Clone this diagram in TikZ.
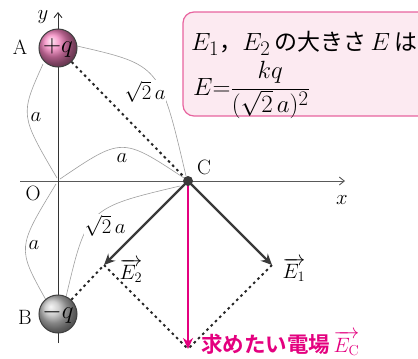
\documentclass[tikz,border=0pt]{standalone}
\usepackage{fontspec}
\newfontfamily\jp{Noto Sans CJK JP}[BoldFont={Noto Sans CJK JP Bold}]
\usetikzlibrary{arrows.meta}
\definecolor{pinkmag}{HTML}{E4007F}
\definecolor{boxfill}{HTML}{FCEAF1}
\definecolor{boxline}{HTML}{E8649F}
\definecolor{vecgray}{HTML}{3A3A3A}
\definecolor{ballpink}{RGB}{245,130,190}
\tikzset{
  dimarc/.style={draw=gray!75, line width=0.6pt},
  dotline/.style={draw=black!85, line width=2pt, dash pattern=on 2.5pt off 3.5pt},
  axisline/.style={draw=black!65, line width=0.9pt, -{Straight Barb[length=5pt,width=8pt]}},
  vecarrow/.style={draw=vecgray, line width=2.4pt, -{Stealth[length=11pt,width=10pt]}},
  pinkarrow/.style={draw=pinkmag, line width=2.4pt, -{Stealth[length=11pt,width=10pt]}},
  gaplabel/.style={fill=white, inner sep=1pt},
  plainlabel/.style={inner sep=1pt},
  charge/.style={circle, minimum size=38pt, inner sep=0pt, draw=black!75, line width=1pt, font=\fontsize{24.88}{28}\selectfont},
}
\begin{document}
\begin{tikzpicture}[x=1pt,y=-1pt,font=\fontsize{20.74}{24}\selectfont]
\useasboundingbox (0,0) rectangle (418,359);
\fill[white] (0,0) rectangle (418,359);
% points
\coordinate (O) at (58,181);
\coordinate (C) at (188,181);
\coordinate (E1t) at (272,265);
\coordinate (E2t) at (104,265);
\coordinate (Ect) at (188,349);
\coordinate (xs) at (20,181);
\coordinate (xe) at (345,181);
\coordinate (ys) at (58,343);
\coordinate (ye) at (58,12);
% box
\draw[fill=boxfill, draw=boxline, line width=1.2pt, rounded corners=11pt] (183,12) rectangle (440,116);
\node[anchor=west, inner sep=0pt, font=\fontsize{24.88}{28}\selectfont] (t1) at (191,43) {$E_{\mathrm{1}}${\jp\fontsize{23}{28}\selectfont ，}$E_{\mathrm{2}}$\,{\jp\fontsize{23}{28}\selectfont の大きさ}\,$E$\,{\jp\fontsize{23}{28}\selectfont は}};
\node[anchor=west, inner sep=0pt, font=\fontsize{24.88}{28}\selectfont] (t2) at (193,90) {$E{=}{\displaystyle\frac{kq}{(\sqrt{2}\,a)^{2}}}$};
% dimension arcs
\coordinate (a1) at (43,64);  \coordinate (o1) at (57,178);
\coordinate (o2) at (60,179); \coordinate (c2) at (184,178);
\coordinate (a3) at (77,46);  \coordinate (c3) at (186,176);
\coordinate (o4) at (56,184); \coordinate (b4) at (46,300);
\coordinate (c5) at (180,186);\coordinate (b5) at (66,297);
\draw[dimarc] (a1) .. controls (20,115) .. (o1);
\draw[dimarc] (o2) .. controls (122,137) .. (c2);
\draw[dimarc] (a3) .. controls (160,65) .. (c3);
\draw[dimarc] (o4) .. controls (17,248) .. (b4);
\draw[dimarc] (c5) .. controls (87,208) .. (b5);
\node[gaplabel] (la1) at (36,117) {$a$};
\node[gaplabel] (la2) at (122,158) {$a$};
\node[gaplabel] (la3) at (145,92) {$\sqrt{2}\,a$};
\node[gaplabel] (la4) at (34,245) {$a$};
\node[gaplabel] (la5) at (105,226) {$\sqrt{2}\,a$};
% axes
\draw[axisline] (xs) -- (xe);
\draw[axisline, draw=black!80] (ys) -- (ye);
% charges
\node[charge, shading=ball, ball color=ballpink] (A) at (58,48) {$+q$};
\node[charge, shading=ball, ball color=gray!50] (B) at (58,314) {$-q$};
% dotted lines
\draw[dotline] (A) -- (C);
\draw[dotline] (B) -- (E2t);
\draw[dotline] (E2t) -- (Ect);
\draw[dotline] (E1t) -- (Ect);
% vectors
\draw[vecarrow] (C) -- (E1t);
\draw[vecarrow] (C) -- (E2t);
\draw[pinkarrow] (C) -- (Ect);
\fill[vecgray] (C) circle (5pt);
% labels
\node[plainlabel] (lA) at (20,47) {A};
\node[plainlabel] (lB) at (25,317) {B};
\node[plainlabel] (lO) at (33,193) {O};
\node[plainlabel] (lC) at (204,167) {C};
\node[plainlabel] (lx) at (342,200) {$x$};
\node[plainlabel] (ly) at (43,17) {$y$};
\node[plainlabel] (lE1) at (294,270) {$\overrightarrow{E_{\mathrm{1}}}$};
\node[plainlabel] (lE2) at (131,271) {$\overrightarrow{E_{\mathrm{2}}}$};
\node[inner sep=0pt, anchor=base west, text=pinkmag] (lEc) at (201,352) {{\jp\bfseries\fontsize{21.5}{24}\selectfont 求めたい電場}\,$\overrightarrow{E_{\mathrm{C}}}$};
\end{tikzpicture}
\end{document}
